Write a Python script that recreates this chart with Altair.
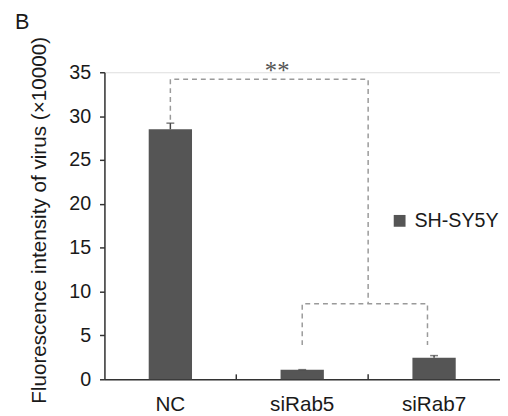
import altair as alt
import pandas as pd

categories = ["NC", "siRab5", "siRab7"]
values = [28.5, 1.1, 2.45]
errors = [0.7, 0.0, 0.25]
series_name = "SH-SY5Y"
y_ticks = [0, 5, 10, 15, 20, 25, 30, 35]

# significance brackets, x in category units (0..3), y in data units
bracket_x = [0.5, 0.5, 2.0, 2.0, 1.5, 1.5, 2.45, 2.45]
bracket_y = [29.6, 34.2, 34.2, 8.6, 3.9, 8.6, 8.6, 3.9]
bracket_id = [1, 1, 1, 1, 2, 2, 2, 2]
star_x = [1.31]
star_y = [34.2]
star_text = ["**"]
xtick_pos = [1, 2]
panel_label = "B"

FONT = "Liberation Sans"
TXT = "#1a1a1a"

bars_df = pd.DataFrame({
    "cat": categories,
    "val": values,
    "top": [v + e for v, e in zip(values, errors)],
    "series": [series_name] * 3,
})
br_df = pd.DataFrame({
    "bx": bracket_x, "by": bracket_y, "id": bracket_id,
    "ord": list(range(len(bracket_x))),
})
star_df = pd.DataFrame({"sx": star_x, "sy": star_y, "t": star_text})
xt_df = pd.DataFrame({"tx": xtick_pos})
lab_df = pd.DataFrame({"t": [panel_label]})

xband = alt.X("cat:N", sort=categories, title=None,
              scale=alt.Scale(paddingInner=0, paddingOuter=0),
              axis=alt.Axis(labelAngle=0, labelFontSize=21, labelFont=FONT,
                            labelColor=TXT, ticks=False, labelPadding=15,
                            domainColor="#333", domainWidth=1.5))
yscale = alt.Scale(domain=[0, 35], nice=False, zero=True)

bars = alt.Chart(bars_df).mark_bar(size=44).encode(
    x=xband,
    y=alt.Y("val:Q", scale=yscale,
            title="Fluorescence intensity of virus (×10000)",
            axis=alt.Axis(values=y_ticks, grid=False, labelFontSize=20,
                          labelFont=FONT, labelColor=TXT, tickSize=5,
                          tickColor="#333", tickWidth=1.5, labelPadding=9,
                          domainColor="#333", domainWidth=1.5,
                          titleFont=FONT, titleFontSize=21, titleFontWeight="normal",
                          titleColor=TXT, titleX=-66, titleY=150,
                          titleAlign="center", titleBaseline="middle")),
    color=alt.Color("series:N", scale=alt.Scale(range=["#555555"]),
                    legend=alt.Legend(title=None, orient="none", legendX=290,
                                      legendY=141, symbolType="square",
                                      symbolSize=144, symbolStrokeWidth=0,
                                      labelFontSize=20, labelFont=FONT,
                                      labelColor=TXT, labelOffset=5, padding=0)),
)

err = alt.Chart(bars_df).mark_rule(color="#444", strokeWidth=1.5).encode(
    x=alt.X("cat:N", sort=categories),
    y=alt.Y("val:Q", scale=yscale),
    y2="top:Q",
)
caps = alt.Chart(bars_df).mark_tick(color="#444", size=8, thickness=1.5).encode(
    x=alt.X("cat:N", sort=categories),
    y=alt.Y("top:Q", scale=yscale),
)

xq = alt.Scale(domain=[0, 3], nice=False, zero=False)
brackets = alt.Chart(br_df).mark_line(color="#9a9a9a", strokeWidth=1.5,
                                      strokeDash=[5, 4]).encode(
    x=alt.X("bx:Q", scale=xq, axis=None),
    y=alt.Y("by:Q", scale=yscale),
    detail="id:N",
    order="ord:Q",
)
stars = alt.Chart(star_df).mark_text(font="Liberation Serif", fontSize=25,
                                     color="#555", baseline="alphabetic",
                                     align="center", dy=0).encode(
    x=alt.X("sx:Q", scale=xq, axis=None),
    y=alt.Y("sy:Q", scale=yscale),
    text="t:N",
)
xticks = alt.Chart(xt_df).mark_rule(color="#333", strokeWidth=1.5).encode(
    x=alt.X("tx:Q", scale=xq, axis=None),
    y=alt.datum(0),
    y2=alt.datum(0.56),
)
panel = alt.Chart(lab_df).mark_text(font=FONT, fontSize=22, color=TXT,
                                    align="left", baseline="alphabetic").encode(
    x=alt.value(-91), y=alt.value(-44), text="t:N",
)

band_layer = alt.layer(bars, err, caps)
quant_layer = alt.layer(brackets, stars, xticks, panel)

chart = alt.layer(band_layer, quant_layer).resolve_scale(x="independent").properties(
    width=402, height=312,
    autosize=alt.AutoSizeParams(type="none"),
    padding={"left": 98, "top": 62, "right": 0, "bottom": 34},
).configure_view(stroke=None).configure(background="white")

chart.save("out.html", embed_options={"renderer": "svg", "actions": False})
